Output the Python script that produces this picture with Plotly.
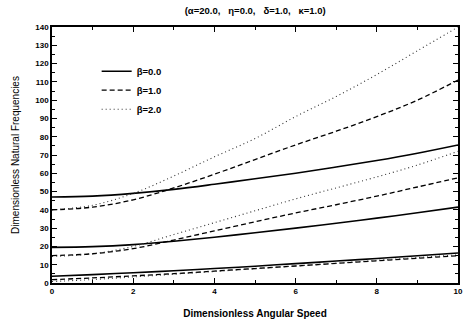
import plotly.graph_objects as go

speed = [0, 1, 2, 3, 4, 5, 6, 7, 8, 9, 10]

# beta = 0.0 (solid)
b0_mode1 = [3.7, 4.6, 5.6, 6.7, 7.9, 9.2, 10.6, 12.0, 13.4, 14.9, 16.4]
b0_mode2 = [19.5, 19.9, 21.0, 22.8, 25.0, 27.5, 30.0, 32.7, 35.5, 38.4, 41.5]
b0_mode3 = [47.0, 47.5, 49.0, 51.2, 54.0, 57.0, 60.0, 63.4, 67.0, 71.0, 75.5]
# beta = 1.0 (dashed)
b1_mode1 = [1.8, 2.8, 3.9, 5.1, 6.5, 7.9, 9.3, 10.7, 12.1, 13.5, 14.9]
b1_mode2 = [15.0, 16.0, 18.8, 23.5, 28.5, 33.5, 38.3, 42.8, 47.5, 52.5, 57.5]
b1_mode3 = [40.0, 41.5, 45.5, 52.0, 59.5, 67.5, 75.5, 83.0, 91.0, 100.0, 111.0]
# beta = 2.0 (dotted)
b2_mode1 = [0.8, 1.9, 3.3, 4.8, 6.3, 7.8, 9.3, 10.8, 12.4, 13.9, 15.4]
b2_mode2 = [14.5, 16.0, 20.0, 26.5, 33.0, 39.5, 46.0, 52.0, 58.0, 64.5, 72.0]
b2_mode3 = [40.0, 42.5, 49.0, 58.5, 69.0, 79.0, 91.0, 102.0, 114.0, 127.0, 140.0]

x_ticks = [0, 2, 4, 6, 8, 10]
y_ticks = list(range(0, 141, 10))

series = [
    ("\u03b2=0.0", [b0_mode1, b0_mode2, b0_mode3], dict(color="black", width=1.6, dash="solid")),
    ("\u03b2=1.0", [b1_mode1, b1_mode2, b1_mode3], dict(color="black", width=1.3, dash="5px,3px")),
    ("\u03b2=2.0", [b2_mode1, b2_mode2, b2_mode3], dict(color="#333333", width=1.1, dash="1px,3px")),
]

fig = go.Figure()
for name, modes, line in series:
    for i, vals in enumerate(modes):
        fig.add_trace(go.Scatter(
            x=speed, y=vals, mode="lines", name=name, legendgroup=name,
            showlegend=(i == 0), line=dict(shape="spline", **line),
        ))

font_family = "Liberation Sans, Arial, sans-serif"
fig.update_layout(
    width=464, height=324,
    margin=dict(l=52, r=6, t=27, b=41, autoexpand=False),
    paper_bgcolor="white", plot_bgcolor="white",
    title=dict(text="(\u03b1=20.0,   \u03b7=0.0,   \u03b4=1.0,   \u03ba=1.0)",
               x=0.55, xanchor="center", xref="container",
               y=0.968, yanchor="middle", automargin=False,
               font=dict(family=font_family, size=9.5, color="black", weight="bold")),
    legend=dict(x=0.11, y=0.884, xanchor="left", yanchor="top",
                bgcolor="rgba(0,0,0,0)", tracegroupgap=0, itemwidth=30,
                font=dict(family=font_family, size=9.5, color="black", weight="bold")),
    font=dict(family=font_family, color="black"),
)
fig.update_xaxes(
    range=[-0.0001, 10.0001], tickvals=x_ticks,
    ticks="inside", ticklen=5, tickwidth=1.2, tickcolor="black",
    ticklabeloverflow="allow", automargin=False,
    minor=dict(tickvals=[1, 3, 5, 7, 9], ticks="inside", ticklen=3, tickcolor="black"),
    showline=True, linecolor="black", linewidth=1.5, mirror="ticks",
    showgrid=False, zeroline=False,
    tickfont=dict(family=font_family, size=8, color="black", weight="bold"),
    title=dict(text="Dimensionless Angular Speed", standoff=15,
               font=dict(family=font_family, size=10, color="black", weight="bold")),
)
fig.update_yaxes(
    range=[0, 140], tickvals=y_ticks,
    ticks="inside", ticklen=5, tickwidth=1.2, tickcolor="black",
    minor=dict(tickvals=list(range(5, 140, 10)), ticks="inside", ticklen=3, tickcolor="black"),
    showline=True, linecolor="black", linewidth=1.5, mirror="ticks",
    showgrid=False, zeroline=False, automargin=False,
    tickfont=dict(family=font_family, size=8, color="black", weight="bold"),
    title=dict(text="Dimensionless Natural Frequencies", standoff=14,
               font=dict(family=font_family, size=10, color="black", weight="normal")),
)

fig.write_html("out.html", config={"displayModeBar": False},
               post_script="document.body.style.margin='0';")
